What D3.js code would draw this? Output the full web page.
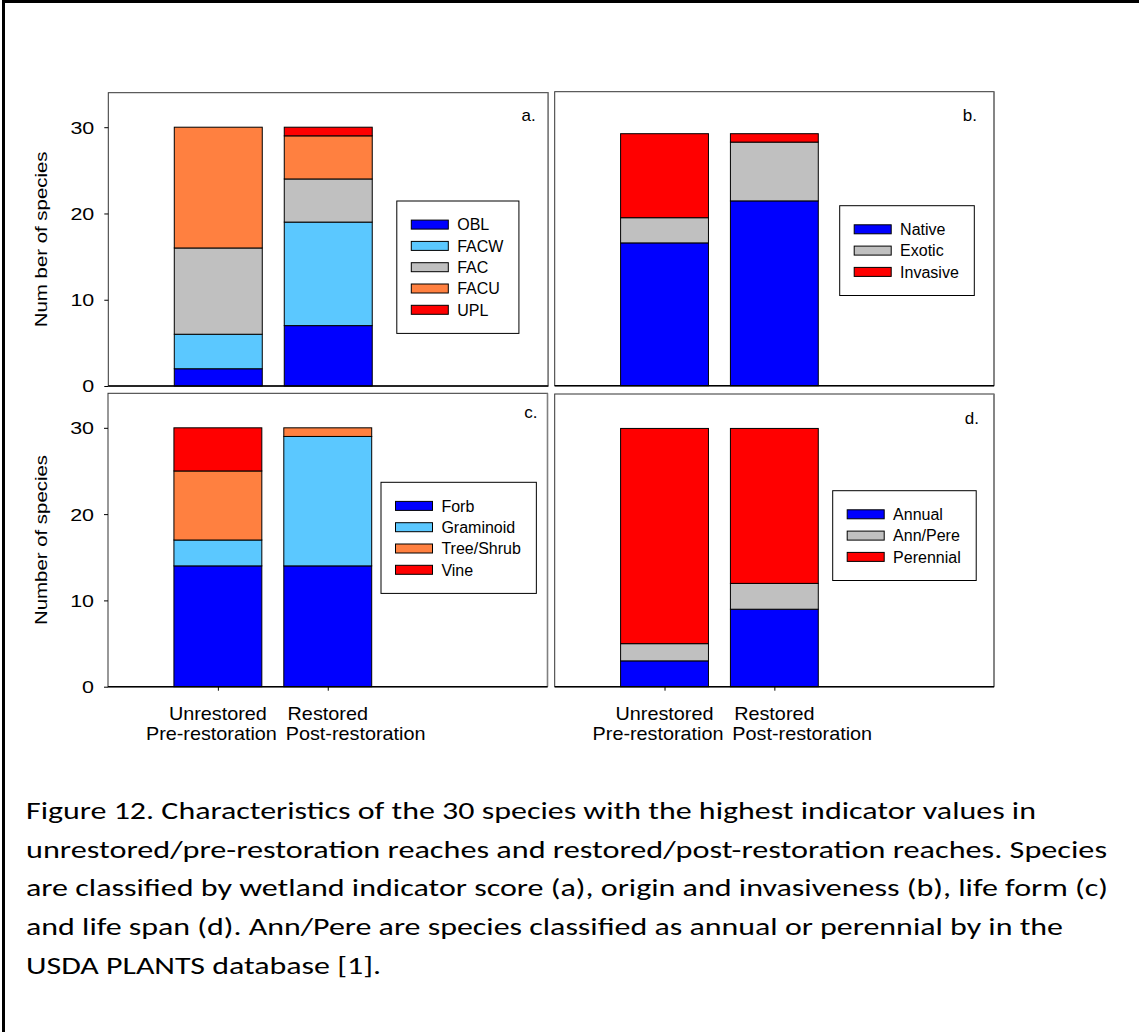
<!DOCTYPE html>
<html>
<head>
<meta charset="utf-8">
<script src="https://cdn.jsdelivr.net/npm/d3@7"></script>
<style>
  html, body { margin: 0; padding: 0; background: #fff; }
  svg { display: block; }
</style>
</head>
<body>
<svg id="fig" width="1139" height="1032"></svg>
<script>
// ---- data ----
const categories = ["Unrestored", "Restored"];
const subLabels = ["Pre-restoration", "Post-restoration"];
const yTicks = [0, 10, 20, 30];

// (a) wetland indicator score
const indicatorClasses = ["OBL", "FACW", "FAC", "FACU", "UPL"];
const indicatorCounts = [[2, 4, 10, 14, 0], [7, 12, 5, 5, 1]];
// (b) origin and invasiveness
const originClasses = ["Native", "Exotic", "Invasive"];
const originCounts = [[17, 3, 10], [22, 7, 1]];
// (c) life form
const lifeFormClasses = ["Forb", "Graminoid", "Tree/Shrub", "Vine"];
const lifeFormCounts = [[14, 3, 8, 5], [14, 15, 1, 0]];
// (d) life span
const lifeSpanClasses = ["Annual", "Ann/Pere", "Perennial"];
const lifeSpanCounts = [[3, 2, 25], [9, 3, 18]];

const captionLines = [
  "Figure 12. Characteristics of the 30 species with the highest indicator values in",
  "unrestored/pre-restoration reaches and restored/post-restoration reaches. Species",
  "are classified by wetland indicator score (a), origin and invasiveness (b), life form (c)",
  "and life span (d). Ann/Pere are species classified as annual or perennial by in the",
  "USDA PLANTS database [1]."
];

// ---- styles ----
const palette = {
  OBL: "#0000ff", FACW: "#5bc8ff", FAC: "#c0c0c0", FACU: "#ff8040", UPL: "#ff0000",
  Native: "#0000ff", Exotic: "#c0c0c0", Invasive: "#ff0000",
  Forb: "#0000ff", Graminoid: "#5bc8ff", "Tree/Shrub": "#ff8040", Vine: "#ff0000",
  Annual: "#0000ff", "Ann/Pere": "#c0c0c0", Perennial: "#ff0000"
};
const sans = '"Liberation Sans", Arial, Helvetica, sans-serif';
const captionFont = 'Carlito, Calibri, Lato, "Open Sans", sans-serif';

const svg = d3.select("#fig");

// page frame
svg.append("path")
  .attr("d", "M3.5,1032V1.5H1139")
  .attr("fill", "none").attr("stroke", "#000").attr("stroke-width", 3);

// stretch a text element along its baseline by a factor
function stretch(sel, factor) {
  sel.each(function () {
    const w = this.getComputedTextLength();
    d3.select(this).attr("textLength", w * factor).attr("lengthAdjust", "spacingAndGlyphs");
  });
}

const panels = [
  { letter: "a.", classes: indicatorClasses, counts: indicatorCounts, yMax: 34,
    box: { x0: 108.3, x1: 548.2, y0: 92.7, y1: 386 },
    yTitle: "Num ber of species", xTicks: false,
    legend: { x: 396.8, y: 201 }, letterPos: { dx: 12.5, dy: 28 } },
  { letter: "b.", classes: originClasses, counts: originCounts, yMax: 35,
    box: { x0: 554.7, x1: 994, y0: 91.7, y1: 385.7 },
    yTitle: null, xTicks: false,
    legend: { x: 839.7, y: 205.7 }, letterPos: { dx: 17, dy: 29 } },
  { letter: "c.", classes: lifeFormClasses, counts: lifeFormCounts, yMax: 34,
    box: { x0: 108, x1: 547.5, y0: 393.3, y1: 686.7 },
    yTitle: "Number of species", xTicks: true,
    legend: { x: 381, y: 482.3 }, letterPos: { dx: 10, dy: 25 } },
  { letter: "d.", classes: lifeSpanClasses, counts: lifeSpanCounts, yMax: 34,
    box: { x0: 554.7, x1: 994, y0: 394, y1: 686.7 },
    yTitle: null, xTicks: true,
    legend: { x: 832.7, y: 490.7 }, letterPos: { dx: 15, dy: 30 } }
];

panels.forEach(p => {
  const b = p.box;
  const g = svg.append("g");
  const x = d3.scaleLinear().domain([0, 4]).range([b.x0, b.x1]);
  const y = d3.scaleLinear().domain([0, p.yMax]).range([b.y1, b.y0]);

  // plot frame
  g.append("rect")
    .attr("x", b.x0).attr("y", b.y0)
    .attr("width", b.x1 - b.x0).attr("height", b.y1 - b.y0)
    .attr("fill", "#fff").attr("stroke", "#333").attr("stroke-width", 1);
  g.append("line")
    .attr("x1", b.x1).attr("x2", b.x1).attr("y1", b.y0).attr("y2", b.y1)
    .attr("stroke", "#808080").attr("stroke-width", 1.6);

  // stacked bars
  const rows = categories.map((c, i) => {
    const r = { cat: c, pos: i + 1 };
    p.classes.forEach((k, j) => { r[k] = p.counts[i][j]; });
    return r;
  });
  const series = d3.stack().keys(p.classes)(rows);
  const barW = x(0.8) - x(0);
  g.selectAll("g.series").data(series).join("g")
    .attr("class", "series")
    .attr("fill", d => palette[d.key])
    .selectAll("rect")
    .data(d => d.filter(s => s[1] > s[0]))
    .join("rect")
    .attr("x", d => x(d.data.pos) - barW / 2)
    .attr("width", barW)
    .attr("y", d => y(d[1]))
    .attr("height", d => y(d[0]) - y(d[1]))
    .attr("stroke", "#000").attr("stroke-width", 1);

  // baseline
  g.append("line")
    .attr("x1", b.x0).attr("x2", b.x1).attr("y1", b.y1).attr("y2", b.y1)
    .attr("stroke", "#000").attr("stroke-width", 1.6);

  // y axis
  if (p.yTitle) {
    const ax = g.append("g").attr("transform", `translate(${b.x0},0)`)
      .call(d3.axisLeft(y).tickValues(yTicks).tickSize(4).tickPadding(10));
    ax.select(".domain").remove();
    ax.selectAll(".tick line").attr("stroke", "#000");
    ax.selectAll(".tick text")
      .attr("font-family", sans).attr("font-size", 16.5).attr("fill", "#000")
      .attr("dy", "0.36em");
    stretch(ax.selectAll(".tick text"), 1.3);

    const t = g.append("text")
      .attr("transform", `translate(47,${(b.y0 + b.y1) / 2}) rotate(-90)`)
      .attr("text-anchor", "middle")
      .attr("font-family", sans).attr("font-size", 17).attr("fill", "#000")
      .text(p.yTitle);
    stretch(t, 1.2);
  }

  // x ticks and category labels
  if (p.xTicks) {
    const ax = g.append("g").attr("transform", `translate(0,${b.y1})`)
      .call(d3.axisBottom(x).tickValues(categories.map((c, i) => i + 1)).tickSize(4).tickFormat(""));
    ax.select(".domain").remove();
    ax.selectAll(".tick line").attr("stroke", "#000");

    categories.forEach((c, i) => {
      const cx = x(i + 1);
      const t1 = g.append("text")
        .attr("x", cx).attr("y", 720)
        .attr("text-anchor", "middle")
        .attr("font-family", sans).attr("font-size", 18.5).attr("fill", "#000")
        .text(c);
      stretch(t1, 1.07);
      const t2 = g.append("text")
        .attr("x", i === 0 ? cx + 59 : cx - 42).attr("y", 740)
        .attr("text-anchor", i === 0 ? "end" : "start")
        .attr("font-family", sans).attr("font-size", 18.5).attr("fill", "#000")
        .text(subLabels[i]);
      stretch(t2, 1.07);
    });
  }

  // panel letter
  g.append("text")
    .attr("x", b.x1 - p.letterPos.dx).attr("y", b.y0 + p.letterPos.dy)
    .attr("text-anchor", "end")
    .attr("font-family", sans).attr("font-size", 17).attr("fill", "#000")
    .text(p.letter);

  // legend
  const rowGap = 21.3, padTop = 23.6, swX = 14.5, swW = 37, swH = 9, txX = 60.4;
  const lg = g.append("g").attr("transform", `translate(${p.legend.x},${p.legend.y})`);
  const box = lg.append("rect").attr("fill", "#fff").attr("stroke", "#000").attr("stroke-width", 1);
  const items = lg.selectAll("g.item").data(p.classes).join("g")
    .attr("class", "item")
    .attr("transform", (d, i) => `translate(0,${padTop + i * rowGap})`);
  items.append("rect")
    .attr("x", swX).attr("y", -swH / 2).attr("width", swW).attr("height", swH)
    .attr("fill", d => palette[d]).attr("stroke", "#000").attr("stroke-width", 1);
  const labels = items.append("text")
    .attr("x", txX).attr("dy", "0.36em")
    .attr("font-family", sans).attr("font-size", 16).attr("fill", "#000")
    .text(d => d);
  let maxW = 0;
  labels.each(function () { maxW = Math.max(maxW, this.getComputedTextLength()); });
  box.attr("width", txX + maxW + 15.5)
     .attr("height", padTop * 2 + (p.classes.length - 1) * rowGap);
});

// caption
const capWidths = [1010, 1081, 1082, 1037, 355];
svg.append("g").selectAll("text").data(captionLines).join("text")
  .attr("x", 26).attr("y", (d, i) => 819 + i * 38.7)
  .attr("font-family", captionFont).attr("font-size", 24).attr("fill", "#000")
  .attr("textLength", (d, i) => capWidths[i]).attr("lengthAdjust", "spacingAndGlyphs")
  .text(d => d);
</script>
</body>
</html>
